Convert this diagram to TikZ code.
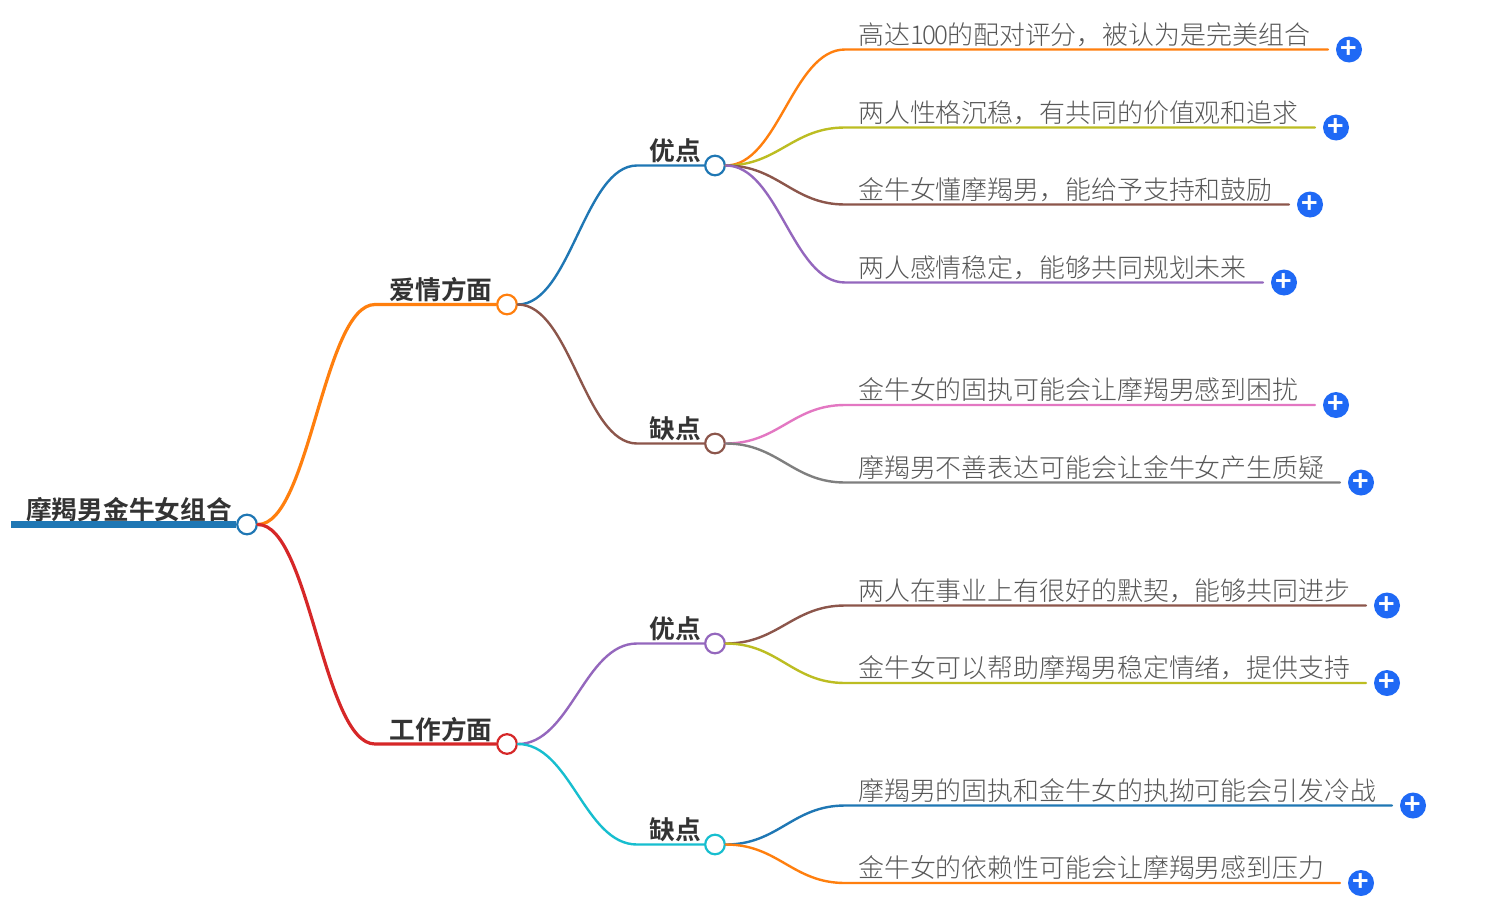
\documentclass[tikz,border=0pt]{standalone}
\usepackage{fontspec}
\setmainfont{Noto Sans CJK SC}
\newfontfamily\leaffont{Noto Sans CJK SC Light}
\newfontfamily\boldfont{Noto Sans CJK SC Bold}
\usetikzlibrary{calc}
\definecolor{tblue}{HTML}{1F77B4}
\definecolor{torange}{HTML}{FF7F0E}
\definecolor{tred}{HTML}{D62728}
\definecolor{tbrown}{HTML}{8C564B}
\definecolor{tpurple}{HTML}{9467BD}
\definecolor{tolive}{HTML}{BCBD22}
\definecolor{tpink}{HTML}{E377C2}
\definecolor{tgray}{HTML}{7F7F7F}
\definecolor{tcyan}{HTML}{17BECF}
\definecolor{plusblue}{HTML}{1F69F5}
\tikzset{
  x=1bp,y=-1bp,
  dot/.style={circle,draw=#1,fill=white,line width=2.2bp,minimum size=19.6bp,inner sep=0pt},
  plusdot/.style={circle,fill=plusblue,text=white,minimum size=26bp,inner sep=0pt,font=\fontsize{28bp}{28bp}\boldfont},
  headtext/.style={inner sep=0pt,text=black!80,font=\fontsize{25.7bp}{30bp}\boldfont},
  leaftext/.style={inner sep=0pt,anchor=west,text=black!66,font=\fontsize{25.9bp}{30bp}\leaffont},
  wire/.style={draw=#1,line width=2.4bp,line cap=round},
  wireb/.style={draw=#1,line width=3.2bp,line cap=round},
}
% \branch{style}{colour}{from}{knee}{to}
\newcommand{\branch}[5]{%
  \draw[#1=#2] (#3.east) .. controls ($(#3.east)!0.44!(#3.east -| #4)$) and ($(#4)!0.44!(#4 -| #3.east)$) .. (#4) -- (#5.west);}
% \leaf{name}{parent}{y}{plus x}{colour}{text}
\newcommand{\leaf}[6]{%
  \coordinate (#1k) at (845,#3);
  \node[leaftext] (#1t) at (858,#3-15) {#6};
  \node[plusdot] (#1p) at (#4,#3) {+};
  \coordinate (#1e) at ($(#1p.west)+(-8,0)$);
  \branch{wire}{#5}{#2}{#1k}{#1e}}
\begin{document}
\begin{tikzpicture}
\useasboundingbox (0,-0.5) rectangle (1488,912.5);
\fill[white] (0,-0.5) rectangle (1488,912.5);
% hubs
\node[dot=tblue] (root) at (247,524) {};
\node[dot=torange] (love) at (507,304) {};
\node[dot=tred] (work) at (507,743.5) {};
\node[dot=tblue] (lp) at (715,165) {};
\node[dot=tbrown] (lc) at (715,443) {};
\node[dot=tpurple] (wp) at (715,643) {};
\node[dot=tcyan] (wc) at (715,844) {};
% labels
\node[headtext] (roott) at (129,509) {摩羯男金牛女组合};
\node[headtext] (lovet) at (441,289) {爱情方面};
\node[headtext] (workt) at (441,729) {工作方面};
\node[headtext] (lpt) at (675,150) {优点};
\node[headtext] (lct) at (675,428) {缺点};
\node[headtext] (wpt) at (675,628) {优点};
\node[headtext] (wct) at (675,829) {缺点};
% root stem
\coordinate (stem) at (11,524);
\draw[draw=tblue,line width=6.5bp] (stem) -- (root.west);
% knees
\coordinate (lovek) at (375,304);
\coordinate (workk) at (375,743.5);
\coordinate (lpk) at (637,165);
\coordinate (lck) at (637,443);
\coordinate (wpk) at (637,643);
\coordinate (wck) at (637,844);
\branch{wireb}{torange}{root}{lovek}{love}
\branch{wireb}{tred}{root}{workk}{work}
\branch{wire}{tblue}{love}{lpk}{lp}
\branch{wire}{tbrown}{love}{lck}{lc}
\branch{wire}{tpurple}{work}{wpk}{wp}
\branch{wire}{tcyan}{work}{wck}{wc}
% leaves
\leaf{a}{lp}{49}{1349}{torange}{高达1\kern-1.4bp 0\kern-1.4bp 0\kern-1.4bp 的配对评分，被认为是完美组合}
\leaf{b}{lp}{127}{1336}{tolive}{两人性格沉稳，有共同的价值观和追求}
\leaf{c}{lp}{204}{1310}{tbrown}{金牛女懂摩羯男，能给予支持和鼓励}
\leaf{d}{lp}{282}{1284}{tpurple}{两人感情稳定，能够共同规划未来}
\leaf{e}{lc}{404.5}{1336}{tpink}{金牛女的固执可能会让摩羯男感到困扰}
\leaf{f}{lc}{482}{1361}{tgray}{摩羯男不善表达可能会让金牛女产生质疑}
\leaf{g}{wp}{605}{1387}{tbrown}{两人在事业上有很好的默契，能够共同进步}
\leaf{h}{wp}{682.5}{1387}{tolive}{金牛女可以帮助摩羯男稳定情绪，提供支持}
\leaf{i}{wc}{805}{1413}{tblue}{摩羯男的固执和金牛女的执拗可能会引发冷战}
\leaf{j}{wc}{882.5}{1361}{torange}{金牛女的依赖性可能会让摩羯男感到压力}
\end{tikzpicture}
\end{document}
